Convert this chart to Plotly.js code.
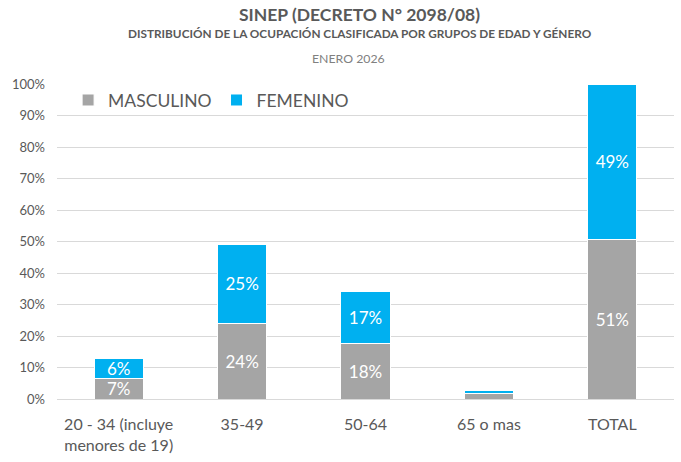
<!DOCTYPE html>
<html>
<head>
<meta charset="utf-8">
<script src="https://cdn.plot.ly/plotly-3.0.1.min.js"></script>
<style>
  html, body { margin: 0; padding: 0; background: #fff; }
  #chart { width: 681px; height: 462px; }
</style>
</head>
<body>
<div id="chart"></div>
<script>
// categorias y valores (fraccion del total)
const categorias = ['20 - 34 (incluye<br>menores de 19)', '35-49', '50-64', '65 o mas', 'TOTAL'];
const masculino = [0.066, 0.240, 0.176, 0.017, 0.507];
const femenino = [0.062, 0.251, 0.166, 0.011, 0.493];
const yTicks = [0, 0.1, 0.2, 0.3, 0.4, 0.5, 0.6, 0.7, 0.8, 0.9, 1.0];
const yTickText = ['0%', '10%', '20%', '30%', '40%', '50%', '60%', '70%', '80%', '90%', '100%'];

const FONT = 'Lato, "Open Sans", sans-serif';

// etiquetas en %, sin etiqueta en la barra demasiado baja (65 o mas)
function pctLabels(vals) {
    return vals.map((v, i) => categorias[i] === '65 o mas' ? '' : Math.round(v * 100) + '%');
}

const traces = [
    {
        x: categorias,
        y: masculino,
        name: 'MASCULINO',
        type: 'bar',
        marker: { color: '#A5A5A5', line: { color: '#ffffff', width: 1 } },
        text: pctLabels(masculino),
        textposition: 'inside',
        insidetextanchor: 'middle',
        constraintext: 'none',
        textfont: { color: '#ffffff', size: 17, family: FONT },
        hoverinfo: 'skip'
    },
    {
        x: categorias,
        y: femenino,
        name: 'FEMENINO',
        type: 'bar',
        marker: { color: '#00B0F0', line: { color: '#ffffff', width: 1 } },
        text: pctLabels(femenino),
        textposition: 'inside',
        insidetextanchor: 'middle',
        constraintext: 'none',
        textfont: { color: '#ffffff', size: 17, family: FONT },
        hoverinfo: 'skip'
    }
];

const layout = {
    width: 681,
    height: 462,
    barmode: 'stack',
    bargap: 0.6,
    margin: { l: 57, r: 7, t: 84, b: 63 },
    paper_bgcolor: '#ffffff',
    plot_bgcolor: '#ffffff',
    font: { family: FONT, color: '#595959' },
    showlegend: true,
    legend: {
        orientation: 'h',
        x: 0.018,
        y: 1.006,
        xanchor: 'left',
        yanchor: 'top',
        font: { size: 17.5, color: '#595959', family: FONT },
        bgcolor: 'rgba(0,0,0,0)',
        itemwidth: 30,
        traceorder: 'normal'
    },
    xaxis: {
        type: 'category',
        tickfont: { size: 16, color: '#595959' },
        showgrid: false,
        zeroline: false,
        showline: false,
        ticks: '',
        ticklabelstandoff: 14
    },
    yaxis: {
        range: [0, 1],
        tickvals: yTicks,
        ticktext: yTickText,
        tickfont: { size: 13, color: '#595959' },
        gridcolor: '#D9D9D9',
        gridwidth: 1,
        zeroline: true,
        zerolinecolor: '#D9D9D9',
        showline: false,
        ticks: '',
        ticklabelstandoff: 11
    },
    annotations: [
        {
            text: '<b>SINEP (DECRETO N° 2098/08)</b>',
            xref: 'paper', yref: 'paper',
            x: 0.491, y: (399 - 15) / 315,
            xanchor: 'center', yanchor: 'middle',
            showarrow: false,
            font: { size: 17.5, color: '#595959', family: FONT }
        },
        {
            text: '<b>DISTRIBUCIÓN DE LA OCUPACIÓN CLASIFICADA POR GRUPOS DE EDAD Y GÉNERO</b>',
            xref: 'paper', yref: 'paper',
            x: 0.491, y: (399 - 34) / 315,
            xanchor: 'center', yanchor: 'middle',
            showarrow: false,
            font: { size: 11.8, color: '#595959', family: FONT }
        },
        {
            text: 'ENERO 2026',
            xref: 'paper', yref: 'paper',
            x: 0.473, y: (399 - 58) / 315,
            xanchor: 'center', yanchor: 'middle',
            showarrow: false,
            font: { size: 12.3, color: '#808080', family: FONT }
        }
    ]
};

Plotly.newPlot('chart', traces, layout, { displayModeBar: false, staticPlot: true });
</script>
</body>
</html>
